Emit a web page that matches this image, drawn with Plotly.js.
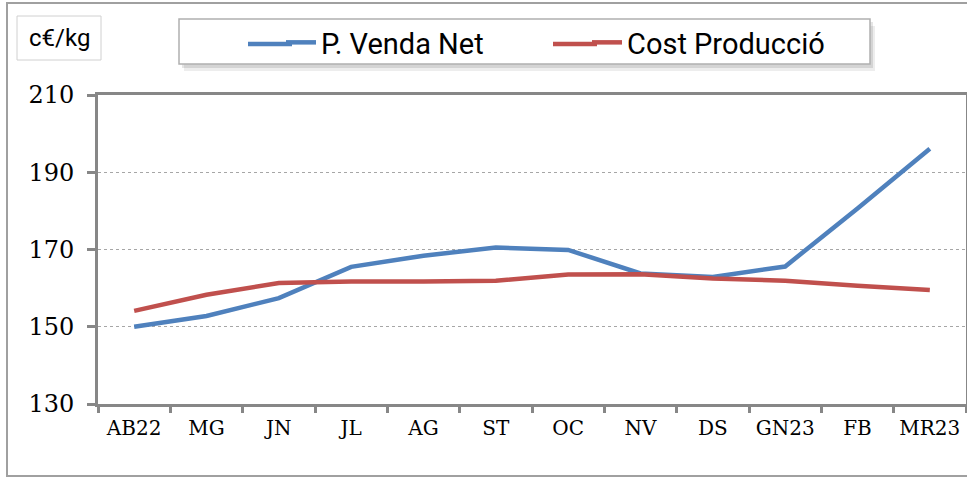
<!DOCTYPE html>
<html>
<head>
<meta charset="utf-8">
<script src="https://cdn.plot.ly/plotly-3.0.1.min.js"></script>
<style>
html,body{margin:0;padding:0;background:#fff;}
#chart{width:967px;height:478px;}
</style>
</head>
<body>
<div id="chart"></div>
<script>
const categories = ["AB22","MG","JN","JL","AG","ST","OC","NV","DS","GN23","FB","MR23"];
const pVendaNet = [150.0, 152.8, 157.4, 165.5, 168.4, 170.5, 169.9, 163.8, 162.9, 165.6, 180.6, 196.1];
const costProduccio = [154.1, 158.3, 161.3, 161.7, 161.7, 161.9, 163.5, 163.6, 162.5, 161.9, 160.6, 159.5];
const seriesNames = ["P. Venda Net", "Cost Producció"];
const seriesColors = ["#4F81BD", "#C0504D"];
const yTicks = [130, 150, 170, 190, 210];
const unitLabel = "c€/kg";

const W = 967, H = 478, ML = 98, MR = 1, MT = 95, MB = 74;
const PW = W - ML - MR, PH = H - MT - MB;
const X = px => (px - ML) / PW;
const Y = py => (H - MB - py) / PH;

const traces = [
  {x: categories, y: pVendaNet, name: seriesNames[0], type: "scatter", mode: "lines",
   line: {color: seriesColors[0], width: 4.5}},
  {x: categories, y: costProduccio, name: seriesNames[1], type: "scatter", mode: "lines",
   line: {color: seriesColors[1], width: 4.5}}
];

const serif = "DejaVu Serif, Liberation Serif, serif";
const sans = "Liberation Sans Narrow, Roboto, Liberation Sans, sans-serif";

const legendLineY = 44;
const layout = {
  width: W, height: H,
  margin: {l: ML, r: MR, t: MT, b: MB},
  paper_bgcolor: "#fff", plot_bgcolor: "#fff",
  showlegend: true,
  legend: {orientation: "h", x: X(281), y: Y(17), xanchor: "left", yanchor: "top",
           bgcolor: "rgba(0,0,0,0)", borderwidth: 0, entrywidth: 261,
           font: {family: sans, size: 29, color: "#000"}},
  xaxis: {type: "category", range: [-0.5, 11.5], showgrid: false,
          showline: true, linecolor: "#878787", linewidth: 3, mirror: true,
          ticks: "outside", tickson: "boundaries", ticklen: 6, tickwidth: 3, tickcolor: "#878787",
          ticklabelstandoff: 4,
          tickfont: {family: serif, size: 20, color: "#000"}, fixedrange: true},
  yaxis: {range: [130, 210], tickvals: yTicks, ticktext: yTicks.map(String),
          showgrid: true, gridcolor: "#a6a6a6", gridwidth: 1, griddash: "dot",
          showline: true, linecolor: "#878787", linewidth: 3, mirror: true,
          ticks: "outside", ticklen: 8, tickwidth: 3, tickcolor: "#878787",
          ticklabelstandoff: 8,
          tickfont: {family: serif, size: 24, color: "#000"}, zeroline: false, fixedrange: true},
  shapes: [
    {type: "rect", xref: "paper", yref: "paper", x0: X(7), x1: X(968), y0: Y(476), y1: Y(3),
     line: {color: "#a0a0a0", width: 2}, fillcolor: "rgba(0,0,0,0)", layer: "below"},
    {type: "rect", xref: "paper", yref: "paper", x0: X(17), x1: X(101), y0: Y(60), y1: Y(16),
     line: {color: "#d0d0d0", width: 1}, fillcolor: "#fff"},
    {type: "rect", xref: "paper", yref: "paper", x0: X(184), x1: X(875), y0: Y(71), y1: Y(26),
     line: {width: 0}, fillcolor: "rgba(0,0,0,0.07)"},
    {type: "rect", xref: "paper", yref: "paper", x0: X(182), x1: X(873), y0: Y(68), y1: Y(22),
     line: {width: 0}, fillcolor: "rgba(0,0,0,0.10)"},
    {type: "rect", xref: "paper", yref: "paper", x0: X(179), x1: X(870), y0: Y(64), y1: Y(19),
     line: {color: "#b0b0b0", width: 1.5}, fillcolor: "#fff"},
    {type: "line", xref: "paper", yref: "paper", x0: X(248), x1: X(292), y0: Y(legendLineY), y1: Y(legendLineY),
     line: {color: seriesColors[0], width: 4.5}},
    {type: "line", xref: "paper", yref: "paper", x0: X(553), x1: X(597), y0: Y(legendLineY), y1: Y(legendLineY),
     line: {color: seriesColors[1], width: 4.5}}
  ],
  annotations: [
    {text: unitLabel, xref: "paper", yref: "paper", x: X(59), y: Y(38), xanchor: "center", yanchor: "middle",
     showarrow: false, font: {family: sans, size: 24, color: "#000"}}
  ]
};

Plotly.newPlot("chart", traces, layout, {displayModeBar: false, staticPlot: true});
</script>
</body>
</html>
